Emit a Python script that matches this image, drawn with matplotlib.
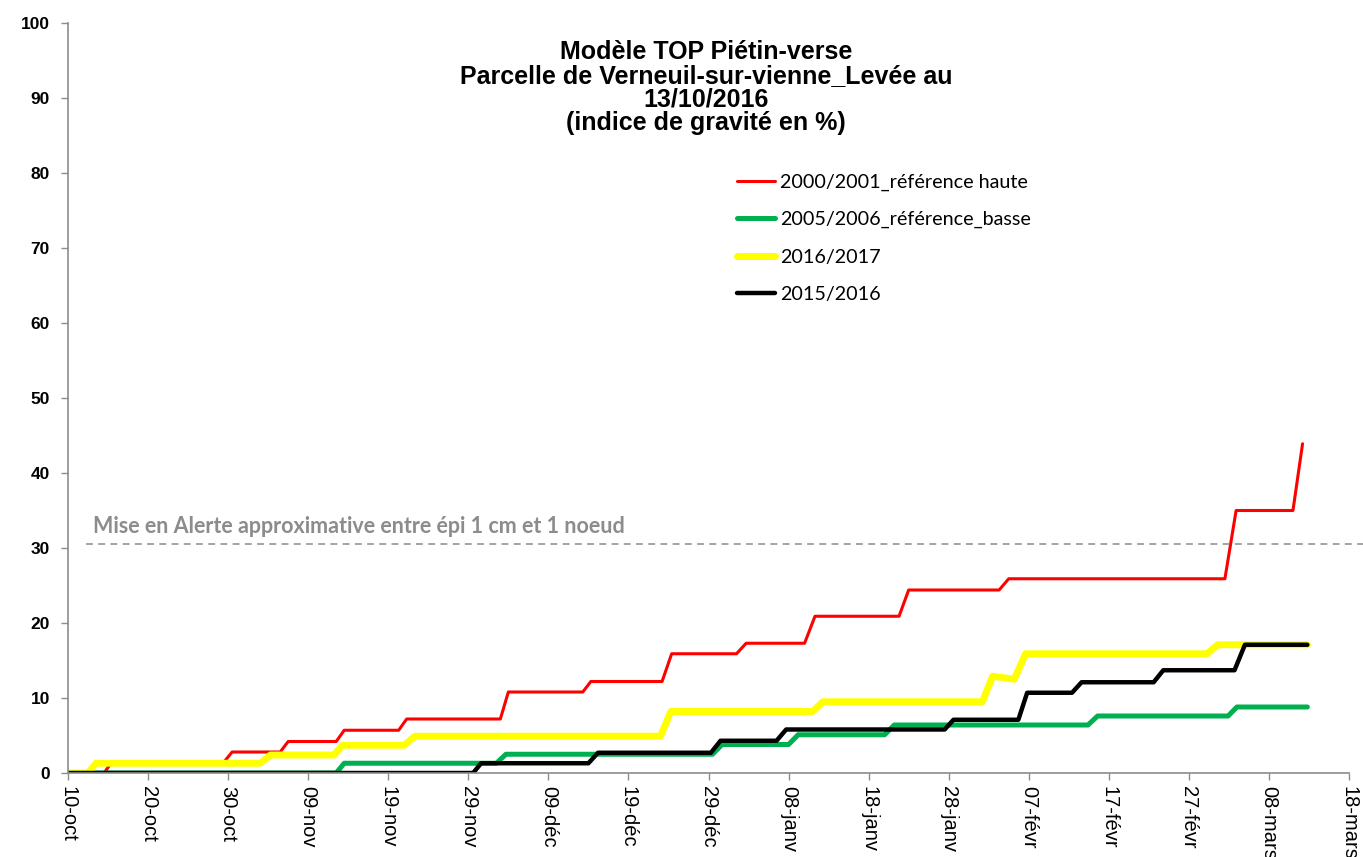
import matplotlib
matplotlib.use("Agg")
import matplotlib.pyplot as plt

# x = days since 10-oct
tick_days = list(range(0, 161, 10))
tick_labels = ["10-oct", "20-oct", "30-oct", "09-nov", "19-nov", "29-nov", "09-déc",
               "19-déc", "29-déc", "08-janv", "18-janv", "28-janv", "07-févr",
               "17-févr", "27-févr", "08-mars", "18-mars"]
y_ticks = list(range(0, 101, 10))

red_x = [0, 4.5, 5.5, 19.5, 20.5, 26.5, 27.5, 33.5, 34.5, 41.3, 42.3, 54, 55, 64.3, 65.3,
         74.2, 75.4, 83.5, 84.7, 92, 93.3, 103.8, 105, 116.3, 117.5, 144.5, 145.9, 153, 154.2]
red_y = [0, 0, 1.5, 1.5, 2.8, 2.8, 4.2, 4.2, 5.7, 5.7, 7.2, 7.2, 10.8, 10.8, 12.2, 12.2,
         15.9, 15.9, 17.3, 17.3, 20.9, 20.9, 24.4, 24.4, 25.9, 25.9, 35.0, 35.0, 43.9]

green_x = [0, 33.5, 34.5, 53.5, 54.7, 80.5, 81.7, 90, 91.2, 102, 103.2, 127.4, 128.6,
           144.9, 146, 154.8]
green_y = [0, 0, 1.3, 1.3, 2.5, 2.5, 3.8, 3.8, 5.1, 5.1, 6.4, 6.4, 7.6, 7.6, 8.8, 8.8]

yellow_x = [0, 2.5, 3.5, 24, 25.3, 33.2, 34.3, 42, 43.3, 74, 75.3, 93, 94.3, 114.2, 115.5,
            118.2, 119.6, 142.3, 143.6, 154.8]
yellow_y = [0, 0, 1.3, 1.3, 2.4, 2.4, 3.7, 3.7, 4.9, 4.9, 8.2, 8.2, 9.5, 9.5, 12.9, 12.5,
            15.9, 15.9, 17.1, 17.1]

black_x = [0, 50.6, 51.6, 65, 66.2, 80.3, 81.5, 88.5, 89.7, 109.5, 110.6, 118.7, 119.8,
           125.4, 126.6, 135.6, 136.8, 145.7, 147, 154.8]
black_y = [0, 0, 1.3, 1.3, 2.7, 2.7, 4.3, 4.3, 5.8, 5.8, 7.1, 7.1, 10.7, 10.7, 12.1, 12.1,
           13.7, 13.7, 17.1, 17.1]

alert_level = 30.5
alert_text = "Mise en Alerte approximative entre épi 1 cm et 1 noeud"
title = "Modèle TOP Piétin-verse\nParcelle de Verneuil-sur-vienne_Levée au\n13/10/2016\n(indice de gravité en %)"

W, H = 1363, 857
fig = plt.figure(figsize=(W / 100, H / 100), dpi=100)
ax = fig.add_axes([68 / W, 1 - 773 / H, (1349 - 68) / W, (773 - 23) / H])

ax.plot(red_x, red_y, color="#ff0000", lw=2.2, label="2000/2001_référence haute",
        solid_joinstyle="round", solid_capstyle="round")
ax.plot(green_x, green_y, color="#00b050", lw=3.6, label="2005/2006_référence_basse",
        solid_joinstyle="round", solid_capstyle="round")
ax.plot(yellow_x, yellow_y, color="#ffff00", lw=5.0, label="2016/2017",
        solid_joinstyle="round", solid_capstyle="round")
ax.plot(black_x, black_y, color="#000000", lw=3.2, label="2015/2016",
        solid_joinstyle="round", solid_capstyle="round")

ax.plot([2.2, 161.8], [alert_level, alert_level], color="#8c8c8c", lw=1.1,
        ls=(0, (4.5, 3.5)), clip_on=False)
ax.text(3.1, 32.9, alert_text, color="#8c8c8c", fontsize=15.5, fontweight="bold",
        family="Lato", va="center", ha="left")

ax.set_xlim(0, 160)
ax.set_ylim(0, 100)
ax.set_xticks(tick_days)
ax.set_xticklabels(tick_labels, rotation=-90, fontsize=14.5, family="Liberation Sans",
                   va="top", ha="center")
ax.set_yticks(y_ticks)
ax.set_yticklabels([str(v) for v in y_ticks], fontsize=12.5, fontweight="bold",
                   family="Liberation Sans")
for s in ["top", "right"]:
    ax.spines[s].set_visible(False)
for s in ["left", "bottom"]:
    ax.spines[s].set_color("#8c8c8c")
    ax.spines[s].set_linewidth(1.2)
ax.tick_params(axis="both", colors="#8c8c8c", labelcolor="black", length=5, width=1)
ax.tick_params(axis="y", pad=8)
ax.tick_params(axis="x", pad=4)

fig.text(706 / W, 1 - 40 / H, title, ha="center", va="top", fontsize=18,
         fontweight="bold", family="Liberation Sans", linespacing=0.99)

leg = ax.legend(loc="upper left", bbox_to_anchor=(651 / (1349 - 68), 1 - (156 - 23) / 750),
                frameon=False, prop={"family": "Lato", "size": 14.2},
                handlelength=1.95, handletextpad=0.25, labelspacing=1.02)

fig.savefig("out.png", dpi=100, facecolor="white")
